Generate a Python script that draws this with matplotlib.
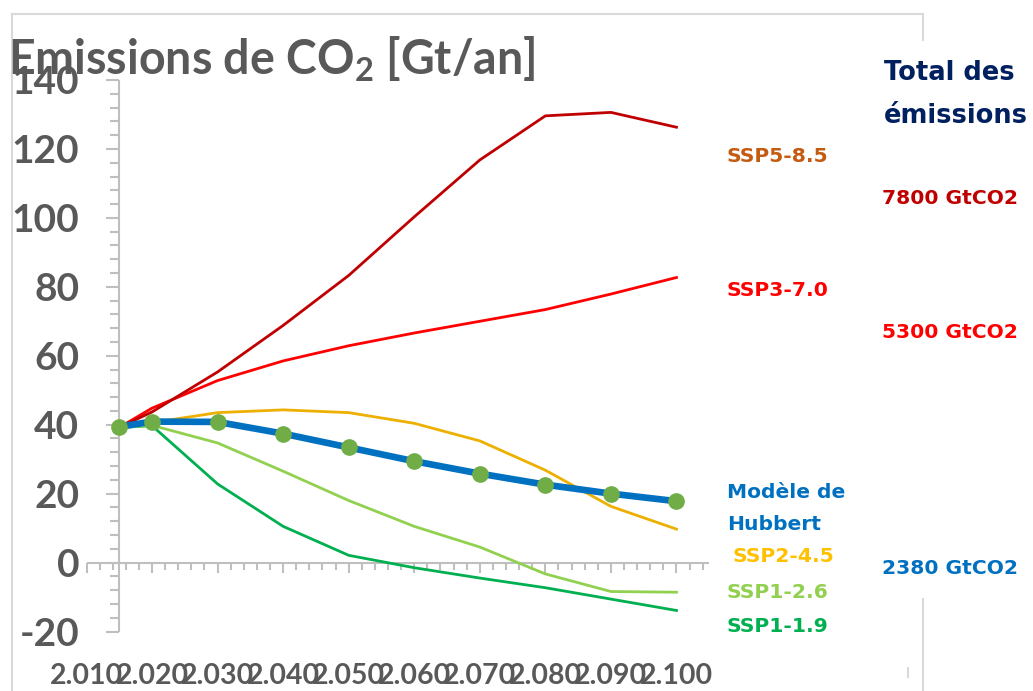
import matplotlib
matplotlib.use('Agg')
import matplotlib.pyplot as plt
from matplotlib.lines import Line2D
from matplotlib.ticker import FixedLocator, MultipleLocator

plt.rcParams['mathtext.fontset'] = 'custom'
plt.rcParams['mathtext.rm'] = 'Lato:bold'
plt.rcParams['mathtext.bf'] = 'Lato:bold'

# emission pathways, Gt CO2 per year
years = [2015, 2020, 2030, 2040, 2050, 2060, 2070, 2080, 2090, 2100]
ssp585 = [39.2, 43.7, 55.3, 68.8, 83.3, 100.3, 116.8, 129.6, 130.6, 126.3]
ssp370 = [39.2, 44.8, 52.8, 58.5, 62.9, 66.6, 70.0, 73.4, 77.9, 82.7]
ssp245 = [39.2, 40.6, 43.5, 44.3, 43.5, 40.4, 35.3, 26.8, 16.3, 9.7]
ssp126 = [39.2, 39.8, 34.7, 26.5, 18.0, 10.5, 4.5, -3.3, -8.4, -8.6]
ssp119 = [39.2, 39.7, 22.8, 10.5, 2.1, -1.5, -4.5, -7.3, -10.6, -13.9]
hubbert = [39.4, 40.9, 40.8, 37.4, 33.4, 29.4, 25.8, 22.6, 20.0, 17.8]

x_ticks = list(range(2010, 2101, 10))
y_ticks = list(range(-20, 141, 20))
x_labels = [f'{v:,}'.replace(',', '.') for v in x_ticks]
y_labels = [str(v) for v in y_ticks]

W, H = 1033, 691


def px(x, y):
    # pixel position -> figure fraction
    return x / W, 1 - y / H


fig = plt.figure(figsize=(W / 100, H / 100), dpi=100)
ax = fig.add_axes([86.5 / W, 1 - 631.5 / H, (709.25 - 86.5) / W, (631.5 - 80) / H])
ax.set_xlim(2010, 2105)
ax.set_ylim(-20, 140)

grey = '#BFBFBF'
ax.spines[['top', 'right']].set_visible(False)
ax.spines['left'].set_position(('data', 2015))
ax.spines['bottom'].set_position(('data', 0))
for s in ('left', 'bottom'):
    ax.spines[s].set_color(grey)
    ax.spines[s].set_linewidth(1.5)
    ax.spines[s].set_capstyle('butt')

ax.xaxis.set_major_locator(FixedLocator(x_ticks))
ax.xaxis.set_minor_locator(MultipleLocator(2))
ax.yaxis.set_major_locator(FixedLocator(y_ticks))
ax.yaxis.set_minor_locator(MultipleLocator(4))
ax.set_xticklabels(x_labels)
ax.set_yticklabels(y_labels)

ax.tick_params(axis='x', which='major', direction='out', length=7.2, width=1.5, color=grey, pad=65)
ax.tick_params(axis='x', which='minor', direction='out', length=4.7, width=1.5, color=grey)
ax.tick_params(axis='y', which='major', direction='out', length=9.4, width=1.5, color=grey, pad=19.5)
ax.tick_params(axis='y', which='minor', direction='out', length=6.5, width=1.5, color=grey)
for lab in ax.get_xticklabels():
    lab.set_fontfamily('Lato')
    lab.set_fontweight('bold')
    lab.set_fontsize(20.5)
    lab.set_color('#595959')
for lab in ax.get_yticklabels():
    lab.set_fontfamily('Lato')
    lab.set_fontweight('bold')
    lab.set_fontsize(28)
    lab.set_color('#595959')

# scenario curves
ax.plot(years, ssp119, color='#00B050', lw=2.0, zorder=3, clip_on=False)
ax.plot(years, ssp126, color='#92D050', lw=2.0, zorder=3, clip_on=False)
ax.plot(years, ssp245, color='#EDB000', lw=2.0, zorder=3, clip_on=False)
ax.plot(years, ssp370, color='#FF0000', lw=2.0, zorder=3, clip_on=False)
ax.plot(years, ssp585, color='#C00000', lw=2.0, zorder=3, clip_on=False)
ax.plot(years, hubbert, color='#0070C0', lw=4.8, marker='o', ms=11,
        mfc='#70AD47', mec='#70AD47', zorder=4, clip_on=False)

# title
fig.text(*px(8, 75), r'Emissions de CO$_\mathrm{2}$ [Gt/an]', fontsize=33.5,
         fontfamily='Lato', fontweight='bold', color='#595959', va='baseline')

# curve names and cumulative totals
bold = dict(fontfamily='DejaVu Sans', fontweight='bold', va='center', ha='left')
fig.text(*px(884, 73), 'Total des', fontsize=18.5, color='#002060', **bold)
fig.text(*px(884, 116), 'émissions', fontsize=18.5, color='#002060', **bold)
fig.text(*px(727, 157), 'SSP5-8.5', fontsize=14.6, color='#C55A11', **bold)
fig.text(*px(882, 199), '7800 GtCO2', fontsize=14.6, color='#C00000', **bold)
fig.text(*px(727, 291), 'SSP3-7.0', fontsize=14.6, color='#FF0000', **bold)
fig.text(*px(882, 333), '5300 GtCO2', fontsize=14.6, color='#FF0000', **bold)
fig.text(*px(727, 492), 'Modèle de', fontsize=14.6, color='#0070C0', **bold)
fig.text(*px(727, 524), 'Hubbert', fontsize=14.6, color='#0070C0', **bold)
fig.text(*px(733, 557), 'SSP2-4.5', fontsize=14.6, color='#FFC000', **bold)
fig.text(*px(727, 593), 'SSP1-2.6', fontsize=14.6, color='#92D050', **bold)
fig.text(*px(727, 627), 'SSP1-1.9', fontsize=14.6, color='#00B050', **bold)
fig.text(*px(882, 568), '2380 GtCO2', fontsize=14.6, color='#0070C0', **bold)

# chart frame, partly hidden behind the text boxes on the right
frame = '#D9D9D9'
for (x0, y0), (x1, y1) in [((12, 14), (923, 14)), ((12, 14), (12, 691)),
                           ((923, 14), (923, 40)), ((923, 599), (923, 691)),
                           ((908, 668), (908, 677))]:
    a, b = px(x0, y0)
    c, d = px(x1, y1)
    fig.add_artist(Line2D([a, c], [b, d], color=frame, lw=1.5))

fig.savefig('out.png', dpi=100)
